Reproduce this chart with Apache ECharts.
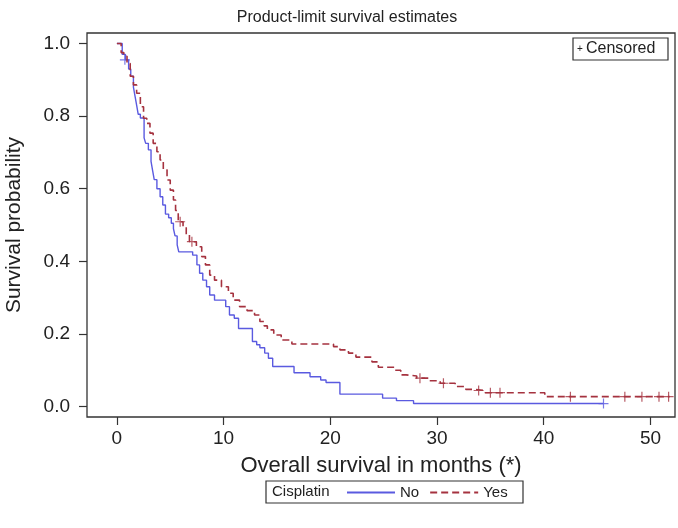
<!DOCTYPE html>
<html>
<head>
<meta charset="utf-8">
<script src="https://cdn.jsdelivr.net/npm/echarts@6/dist/echarts.min.js"></script>
<style>
html,body{margin:0;padding:0;background:#fff;}
#c{width:678px;height:528px;}
</style>
</head>
<body>
<div id="c"></div>
<script>
// ---- data ----
const noTime = [0, 0.5, 0.8, 1.1, 1.3, 1.55, 1.7, 1.85, 2.0, 2.2, 2.55, 2.7, 2.95, 3.2, 3.35, 3.5, 3.75, 4.05, 4.3, 4.55, 4.85, 5.1, 5.3, 5.45, 5.65, 5.8, 7.1, 7.5, 7.75, 8.05, 8.4, 8.7, 9.15, 10.2, 10.55, 11.0, 11.4, 12.7, 13.1, 13.4, 13.85, 14.2, 14.6, 16.6, 18.1, 19.1, 19.6, 20.9, 24.9, 26.2, 27.8, 45.6];
const noSurv = [1.0, 0.97, 0.955, 0.93, 0.91, 0.88, 0.855, 0.83, 0.805, 0.795, 0.74, 0.725, 0.707, 0.675, 0.65, 0.625, 0.6, 0.578, 0.555, 0.53, 0.52, 0.505, 0.49, 0.47, 0.445, 0.426, 0.417, 0.39, 0.367, 0.348, 0.33, 0.307, 0.293, 0.275, 0.252, 0.243, 0.215, 0.179, 0.17, 0.162, 0.147, 0.133, 0.11, 0.093, 0.082, 0.073, 0.066, 0.034, 0.023, 0.016, 0.008, 0.008];

const yesTime = [0, 0.4, 0.65, 0.95, 1.25, 1.55, 1.85, 2.2, 2.5, 2.8, 3.1, 3.4, 3.75, 4.05, 4.35, 4.7, 5.0, 5.3, 5.5, 5.75, 6.2, 6.5, 6.8, 7.45, 7.95, 8.3, 8.7, 9.15, 9.8, 10.45, 10.9, 11.5, 12.2, 12.9, 13.4, 13.8, 14.1, 14.7, 15.4, 16.4, 20.3, 20.9, 21.7, 22.4, 23.9, 24.5, 26.0, 26.6, 27.1, 28.1, 29.3, 30.3, 31.7, 32.7, 33.6, 34.5, 40.1, 51.8];
const yesSurv = [1.0, 0.975, 0.965, 0.945, 0.91, 0.886, 0.863, 0.826, 0.794, 0.78, 0.753, 0.725, 0.702, 0.679, 0.652, 0.624, 0.596, 0.569, 0.54, 0.509, 0.495, 0.475, 0.454, 0.44, 0.413, 0.39, 0.362, 0.348, 0.33, 0.312, 0.293, 0.275, 0.264, 0.252, 0.234, 0.222, 0.211, 0.197, 0.183, 0.172, 0.165, 0.156, 0.147, 0.136, 0.123, 0.108, 0.1, 0.087, 0.084, 0.078, 0.071, 0.064, 0.055, 0.047, 0.044, 0.038, 0.027, 0.027];

const noCensTime = [0.75, 45.6];
const noCensSurv = [0.955, 0.008];
const yesCensTime = [5.93, 7.03, 28.4, 30.6, 33.9, 35.0, 35.9, 42.5, 47.6, 49.2, 50.8, 51.7];
const yesCensSurv = [0.509, 0.454, 0.078, 0.064, 0.044, 0.038, 0.038, 0.027, 0.027, 0.027, 0.027, 0.027];

const xTicks = [0, 10, 20, 30, 40, 50];
const yTicks = [0, 0.2, 0.4, 0.6, 0.8, 1.0];

// ---- chart ----
const FONT = "'Liberation Sans', Arial, Helvetica, sans-serif";
const TXT = '#222';
const BLUE = '#5a5ae0';
const RED = '#a5323f';
const PLUS = 'path://M4.4,0h1.2v4.4h4.4v1.2h-4.4v4.4h-1.2v-4.4h-4.4v-1.2h4.4z';

const zip = (a, b) => a.map((v, i) => [v, b[i]]);

const chart = echarts.init(document.getElementById('c'), null, {renderer: 'canvas'});
chart.setOption({
  animation: false,
  backgroundColor: '#fff',
  title: {
    text: 'Product-limit survival estimates',
    left: 342, top: 5, textAlign: 'center',
    textStyle: {fontFamily: FONT, fontSize: 16, fontWeight: 'normal', color: TXT}
  },
  grid: {
    left: 87, right: 3, top: 33, bottom: 111,
    outerBoundsMode: 'none', containLabel: false,
    show: true, borderColor: '#333', borderWidth: 1.3, backgroundColor: '#fff'
  },
  xAxis: {
    type: 'value', min: -2.8, max: 52.3,
    name: 'Overall survival in months (*)',
    nameLocation: 'middle', nameGap: 38,
    nameTextStyle: {fontFamily: FONT, fontSize: 22, color: TXT},
    axisLine: {show: false, onZero: false},
    splitLine: {show: false},
    axisTick: {show: true, length: 8, inside: false, customValues: xTicks, lineStyle: {color: '#333', width: 1.2}},
    axisLabel: {customValues: xTicks, margin: 12, fontFamily: FONT, fontSize: 19, color: TXT}
  },
  yAxis: {
    type: 'value', min: -0.029, max: 1.029,
    name: 'Survival probability',
    nameLocation: 'middle', nameGap: 62,
    nameTextStyle: {fontFamily: FONT, fontSize: 21, color: TXT},
    axisLine: {show: false, onZero: false},
    splitLine: {show: false},
    axisTick: {show: true, length: 8, inside: false, customValues: yTicks, lineStyle: {color: '#333', width: 1.2}},
    axisLabel: {customValues: yTicks, margin: 17, fontFamily: FONT, fontSize: 19, color: TXT,
      formatter: v => v.toFixed(1)}
  },
  legend: {
    data: ['No', 'Yes'],
    left: 346, top: 485, padding: 0,
    itemWidth: 48, itemHeight: 14, itemGap: 10,
    itemStyle: {opacity: 0},
    textStyle: {fontFamily: FONT, fontSize: 15, color: TXT}
  },
  graphic: [
    {type: 'rect', shape: {x: 266, y: 481, width: 257, height: 22},
      style: {fill: 'none', stroke: '#333', lineWidth: 1.2}, silent: true},
    {type: 'text', x: 272, y: 492,
      style: {text: 'Cisplatin', font: '15px ' + FONT, fill: TXT, verticalAlign: 'middle'}},
    {type: 'rect', shape: {x: 573, y: 38, width: 95, height: 22},
      style: {fill: '#fff', stroke: '#333', lineWidth: 1.2}, silent: true, z: 10},
    {type: 'text', x: 577, y: 49, z: 11,
      style: {text: '+', font: '10px ' + FONT, fill: TXT, verticalAlign: 'middle'}},
    {type: 'text', x: 586, y: 49, z: 11,
      style: {text: 'Censored', font: '16px ' + FONT, fill: TXT, verticalAlign: 'middle'}}
  ],
  series: [
    {
      name: 'No', type: 'line', step: 'end', symbol: 'none',
      data: zip(noTime, noSurv),
      lineStyle: {color: BLUE, width: 1.4}, itemStyle: {color: BLUE}
    },
    {
      name: 'Yes', type: 'line', step: 'end', symbol: 'none',
      data: zip(yesTime, yesSurv),
      lineStyle: {color: RED, width: 1.6, type: [7, 4]}, itemStyle: {color: RED}
    },
    {
      name: 'No censored', type: 'scatter', symbol: PLUS, symbolSize: 10,
      data: zip(noCensTime, noCensSurv), itemStyle: {color: BLUE}
    },
    {
      name: 'Yes censored', type: 'scatter', symbol: PLUS, symbolSize: 10,
      data: zip(yesCensTime, yesCensSurv), itemStyle: {color: RED}
    }
  ]
});
</script>
</body>
</html>
